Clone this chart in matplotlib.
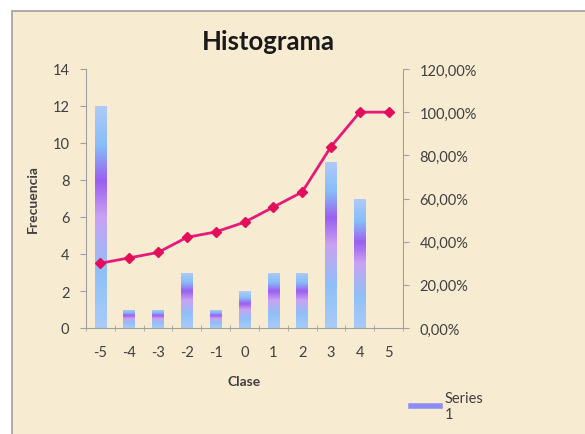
import numpy as np
import matplotlib.pyplot as plt
from matplotlib.colors import LinearSegmentedColormap
from matplotlib.lines import Line2D
from matplotlib.patches import Rectangle

clases = [-5, -4, -3, -2, -1, 0, 1, 2, 3, 4, 5]
frecuencia = [12, 1, 1, 3, 1, 2, 3, 3, 9, 7, 0]
acumulado = [30.0, 32.5, 35.0, 42.0, 44.5, 49.0, 56.0, 63.0, 84.0, 100.0, 100.0]
pct_ticks = [0, 20, 40, 60, 80, 100, 120]

plt.rcParams['font.family'] = ['Lato', 'DejaVu Sans']
fondo = '#f7ecd2'
gris = '#404040'

fig = plt.figure(figsize=(5.85, 4.35), dpi=100)
fig.patch.set_facecolor('white')
# chart area frame (runs off the right and bottom edge)
marco = Rectangle((12 / 585, -0.05), 1.0, 1 - 12 / 435 + 0.05,
                  transform=fig.transFigure, facecolor=fondo,
                  edgecolor='#a0a0a0', linewidth=1.2, zorder=-5)
fig.patches.append(marco)

ax = fig.add_axes([86 / 585, 1 - 329 / 435, (403 - 86) / 585, (329 - 70) / 435])
ax.set_facecolor('none')

# bar gradient: light blue -> purple band -> light blue
cmap = LinearSegmentedColormap.from_list('barra', [
    (0.0, '#a9cbf8'), (0.25, '#8fc0f8'), (0.5, '#c9a2f2'),
    (0.66, '#9a5ff0'), (0.82, '#86bdf8'), (1.0, '#b0cbf8')])
grad = np.linspace(0, 1, 256).reshape(-1, 1)

x = np.arange(len(clases))
bars = ax.bar(x, frecuencia, width=0.4, color='none', edgecolor='none', zorder=2)
for rect in bars:
    h = rect.get_height()
    if h <= 0:
        continue
    x0 = rect.get_x()
    im = ax.imshow(grad, extent=[x0, x0 + rect.get_width(), 0, h], origin='lower',
                   aspect='auto', cmap=cmap, zorder=2)
    im.set_clip_path(rect)

ax.set_xlim(-0.5, len(clases) - 0.5)
ax.set_ylim(0, 14)
ax.set_yticks(range(0, 15, 2))
ax.set_xticks(x)
ax.set_xticklabels([str(c) for c in clases])
ax.set_xticks(np.arange(-0.5, len(clases), 1), minor=True)
ax.tick_params(axis='x', which='major', length=0, pad=12, labelsize=10.5, labelcolor=gris)
ax.tick_params(axis='x', which='minor', length=4, direction='inout', color='#a0a0a0')
ax.tick_params(axis='y', length=4, direction='out', color='#a0a0a0', labelsize=10.5,
               labelcolor=gris, pad=8)
for s in ['top', 'right']:
    ax.spines[s].set_visible(False)
for s in ['left', 'bottom']:
    ax.spines[s].set_color('#a0a0a0')

ax.set_xlabel('Clase', fontsize=10, fontweight='bold', color=gris, labelpad=12)
ax.set_ylabel('Frecuencia', fontsize=10, fontweight='bold', color=gris, labelpad=10)

ax2 = ax.twinx()
ax2.plot(x, acumulado, color='#e8197a', linewidth=2, marker='D', markersize=5.5,
         markerfacecolor='#e30d5a', markeredgecolor='#e30d5a', zorder=3)
ax2.set_ylim(0, 120)
ax2.set_yticks(pct_ticks)
ax2.set_yticklabels(['{:.2f}%'.format(v).replace('.', ',') for v in pct_ticks])
ax2.tick_params(axis='y', length=4, direction='out', color='#a0a0a0', labelsize=10.5,
                labelcolor=gris, pad=8)
for s in ['top', 'left', 'bottom']:
    ax2.spines[s].set_visible(False)
ax2.spines['right'].set_color('#a0a0a0')

fig.text(268 / 585, 1 - 42 / 435, 'Histograma', ha='center', va='center',
         fontsize=18.5, fontweight='bold', color='#1a1a1a')

handle = Line2D([], [], color='#8c8cf2', linewidth=4)
fig.legend([handle], ['Series\n1'], loc='center left',
           bbox_to_anchor=(398 / 585, 1 - 407 / 435), frameon=False,
           fontsize=10.5, handlelength=2.0, handletextpad=0.3, labelcolor=gris)

fig.savefig('out.png', dpi=100)
